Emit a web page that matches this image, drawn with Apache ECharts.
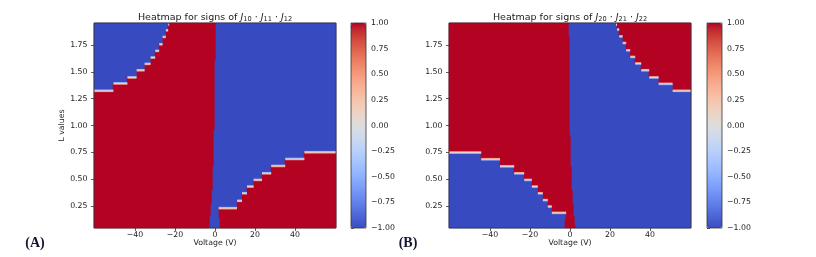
<!DOCTYPE html>
<html><head><meta charset="utf-8">
<script src="https://cdn.jsdelivr.net/npm/echarts@6/dist/echarts.min.js"></script>
<style>html,body{margin:0;padding:0;background:#fff}#c{width:816px;height:257px}</style>
</head><body><div id="c"></div>
<script>
// ---- cell grid (voltage x L) ----
const V_MIN = -60.5, V_MAX = 60.5, V_COLS = 242;
const L_MIN = 0.045, L_MAX = 1.955, L_ROWS = 205;

// ---- tick labels ----
const xTicks = [-40, -20, 0, 20, 40];
const yTicks = [0.25, 0.5, 0.75, 1.0, 1.25, 1.5, 1.75];
const cbTicks = [-1, -0.75, -0.5, -0.25, 0, 0.25, 0.5, 0.75, 1];

// ---- Panel A: J10·J11·J12 ----
// red(+1) / blue(-1) dividing line near V = 0
const aCenterL = [0.045, 0.10, 0.20, 0.38, 0.69, 1.00, 1.955];
const aCenterV = [-2.8, -2.6, -2.0, -1.3, -0.6, -0.2, 0.5];
// upper-left staircase: blue above threshold
const aUpperEdges = [-60.5, -50.8, -43.8, -39.2, -35.2, -32.2, -29.9, -27.9, -26.2, -24.6, -23.4, -22.9];
const aUpperThr   = [1.323, 1.392, 1.448, 1.515, 1.574, 1.633, 1.695, 1.757, 1.825, 1.887, 1.94];
// lower-right staircase: red below threshold
const aLowerEdges = [0, 11.0, 13.5, 16.0, 19.3, 23.5, 28.1, 35.1, 44.7, 60.5];
const aLowerThr   = [0.230, 0.298, 0.369, 0.431, 0.493, 0.555, 0.623, 0.688, 0.751];
// left edge of the lower-right red region (blue wedge at the bottom)
const aWedgeL = [0.045, 0.230];
const aWedgeV = [2.7, 1.8];

// ---- Panel B: J20·J21·J22 ----
const bCenterL = [0.045, 0.10, 0.20, 0.38, 0.69, 1.00, 1.955];
const bCenterV = [2.9, 2.6, 2.0, 1.3, 0.6, 0.1, -0.3];
// upper-right staircase: red above threshold
const bUpperEdges = [23.0, 23.5, 24.6, 26.3, 28.1, 30.1, 32.6, 35.6, 39.6, 44.3, 51.3, 60.5];
const bUpperThr   = [1.94, 1.894, 1.831, 1.769, 1.701, 1.639, 1.578, 1.515, 1.448, 1.388, 1.323];
// lower-left staircase: blue below threshold
const bLowerEdges = [-60.5, -44.4, -35.0, -27.9, -22.9, -19.1, -16.1, -13.6, -11.1, -9.1, 0];
const bLowerThr   = [0.748, 0.686, 0.620, 0.555, 0.493, 0.431, 0.369, 0.305, 0.245, 0.186];
const bWedgeL = [0.045, 0.186];
const bWedgeV = [-2.8, -1.9];

// matplotlib coolwarm
const coolwarm = ['#3b4cc0','#445acc','#4d68d7','#5775e1','#6282ea','#6c8ef1','#779af7','#82a5fb',
 '#8db0fe','#98b9ff','#a3c2ff','#aec9fd','#b8d0f9','#c2d5f4','#ccd9ee','#d5dbe6','#dddddd',
 '#e5d8d1','#ecd3c5','#f1ccb9','#f5c4ad','#f7bba0','#f7b194','#f7a687','#f49a7b','#f18d6f',
 '#ec7f63','#e57058','#de604d','#d55042','#cb3e38','#c0282f','#b40426'];

// ---- helpers ----
function interp(xs, ys, x) {
  if (x <= xs[0]) return ys[0];
  for (let i = 1; i < xs.length; i++) {
    if (x <= xs[i]) { const t = (x - xs[i-1]) / (xs[i] - xs[i-1]); return ys[i-1] + t * (ys[i] - ys[i-1]); }
  }
  return ys[ys.length - 1];
}
function stepThr(edges, thr, v) {
  for (let i = 0; i < thr.length; i++) if (v >= edges[i] && v < edges[i+1]) return thr[i];
  return null;
}
function signA(v, L) {
  const vc = interp(aCenterL, aCenterV, L);
  if (v < vc) { const t = stepThr(aUpperEdges, aUpperThr, v); return (t !== null && L > t) ? -1 : 1; }
  const t = stepThr(aLowerEdges, aLowerThr, v); const w = interp(aWedgeL, aWedgeV, L);
  return (t !== null && L < t && v >= w) ? 1 : -1;
}
function signB(v, L) {
  const vc = interp(bCenterL, bCenterV, L);
  if (v < vc) { const t = stepThr(bLowerEdges, bLowerThr, v); const w = interp(bWedgeL, bWedgeV, L);
    return (t !== null && L < t && v <= w) ? -1 : 1; }
  const t = stepThr(bUpperEdges, bUpperThr, v); return (t !== null && L > t) ? 1 : -1;
}

const vStep = (V_MAX - V_MIN) / V_COLS, lStep = (L_MAX - L_MIN) / L_ROWS;
const vCats = [], lCats = [];
for (let i = 0; i < V_COLS; i++) vCats.push((V_MIN + (i + 0.5) * vStep).toFixed(3));
for (let j = 0; j < L_ROWS; j++) lCats.push((L_MIN + (j + 0.5) * lStep).toFixed(4));
const aCells = [], bCells = [];
for (let i = 0; i < V_COLS; i++) {
  const v = +vCats[i];
  for (let j = 0; j < L_ROWS; j++) {
    const L = +lCats[j];
    aCells.push([i, j, signA(v, L)]);
    bCells.push([i, j, signB(v, L)]);
  }
}
// transition bands along horizontal step edges: [v0, v1, L, kind] kind 0 = blue above, 1 = red above
const aBands = [], bBands = [];
for (let i = 0; i < aUpperThr.length; i++) aBands.push([aUpperEdges[i], aUpperEdges[i+1], aUpperThr[i], 0]);
for (let i = 0; i < aLowerThr.length; i++) aBands.push([Math.max(aLowerEdges[i], interp(aWedgeL, aWedgeV, aLowerThr[i] - 0.003)), aLowerEdges[i+1], aLowerThr[i], 0]);
for (let i = 0; i < bUpperThr.length; i++) bBands.push([bUpperEdges[i], bUpperEdges[i+1], bUpperThr[i], 1]);
for (let i = 0; i < bLowerThr.length; i++) bBands.push([bLowerEdges[i], Math.min(bLowerEdges[i+1], interp(bWedgeL, bWedgeV, bLowerThr[i] - 0.003)), bLowerThr[i], 1]);

const FONT = 'DejaVu Sans';
const TXT = '#222';
const fmtX = v => (v < 0 ? '\u2212' + (-v) : '' + v);
const fmtY = v => v.toFixed(2);
const fmtCb = v => (v < 0 ? '\u2212' : '') + Math.abs(v).toFixed(2);

const bandStops = [
  [{offset:0,color:'#3b4cc0'},{offset:0.28,color:'#9dbdff'},{offset:0.5,color:'#e4d9d2'},{offset:0.72,color:'#f6a385'},{offset:1,color:'#b40426'}],
  [{offset:0,color:'#b40426'},{offset:0.28,color:'#f6a385'},{offset:0.5,color:'#e4d9d2'},{offset:0.72,color:'#9dbdff'},{offset:1,color:'#3b4cc0'}]
];
function bandItem(params, api) {
  const L = api.value(2);
  const p0 = api.coord([api.value(0), L]);
  const p1 = api.coord([api.value(1), L]);
  const h = 3.6;
  return { type: 'rect', shape: { x: p0[0], y: p0[1] - h / 2, width: p1[0] - p0[0], height: h },
    style: { fill: new echarts.graphic.LinearGradient(0, 0, 0, 1, bandStops[api.value(3)]) } };
}

const panels = [
  { left: 94, width: 242, cb: 351 },
  { left: 449, width: 242, cb: 707 }
];
const grids = [], xAxes = [], yAxes = [], series = [], visualMaps = [], titles = [];
const tickStyle = { lineStyle: { color: '#333', width: 0.8 }, length: 3 };
panels.forEach((p, k) => {
  const g = grids.length;
  grids.push({ left: p.left, top: 23, width: p.width, height: 205, show: true, backgroundColor: 'transparent', borderColor: '#333', borderWidth: 0.8, z: 10 });
  grids.push({ left: p.cb, top: 23, width: 15, height: 205, show: true, backgroundColor: 'transparent', borderColor: '#333', borderWidth: 0.8, z: 10 });
  const xc = xAxes.length;
  xAxes.push({ type: 'category', gridIndex: g, data: vCats, show: false, boundaryGap: true });
  xAxes.push({ type: 'value', gridIndex: g, min: V_MIN, max: V_MAX, position: 'bottom',
    axisLine: { show: false }, splitLine: { show: false },
    axisTick: Object.assign({ customValues: xTicks }, tickStyle),
    axisLabel: { customValues: xTicks, formatter: fmtX, fontSize: 7.8, fontFamily: FONT, color: TXT, margin: 2.5 },
    name: 'Voltage (V)', nameLocation: 'middle', nameGap: 11, nameMoveOverlap: false,
    nameTextStyle: { fontSize: 7.8, fontFamily: FONT, color: TXT, verticalAlign: 'top' } });
  xAxes.push({ type: 'value', gridIndex: g + 1, min: 0, max: 1, show: false });
  const yc = yAxes.length;
  yAxes.push({ type: 'category', gridIndex: g, data: lCats, show: false, boundaryGap: true });
  const yv = { type: 'value', gridIndex: g, min: L_MIN, max: L_MAX, position: 'left',
    axisLine: { show: false }, splitLine: { show: false },
    axisTick: Object.assign({ customValues: yTicks }, tickStyle),
    axisLabel: { customValues: yTicks, formatter: fmtY, fontSize: 7.8, fontFamily: FONT, color: TXT, margin: 6.5 } };
  if (k === 0) {
    yv.name = 'L values'; yv.nameLocation = 'middle'; yv.nameRotate = 90; yv.nameGap = 28;
    yv.nameTextStyle = { fontSize: 7.8, fontFamily: FONT, color: TXT };
  }
  yAxes.push(yv);
  yAxes.push({ type: 'value', gridIndex: g + 1, min: -1, max: 1, interval: 0.25, position: 'right',
    axisLine: { show: false }, splitLine: { show: false }, axisTick: tickStyle,
    axisLabel: { formatter: fmtCb, fontSize: 7.8, fontFamily: FONT, color: TXT, margin: 5 } });

  const si = series.length;
  series.push({ type: 'heatmap', xAxisIndex: xc, yAxisIndex: yc, data: k === 0 ? aCells : bCells,
    progressive: 0, emphasis: { disabled: true }, silent: true });
  series.push({ type: 'custom', xAxisIndex: xc + 1, yAxisIndex: yc + 1, data: k === 0 ? aBands : bBands,
    encode: { x: [0, 1], y: 2 }, renderItem: bandItem, clip: true, silent: true, z: 3 });
  visualMaps.push({ type: 'continuous', seriesIndex: si, min: -1, max: 1, calculable: false, hoverLink: false,
    orient: 'vertical', left: p.cb, top: 23, itemWidth: 15, itemHeight: 205, padding: 0, text: null,
    showLabel: false, inRange: { color: coolwarm } });

  const sub = k === 0 ? ['10', '11', '12'] : ['20', '21', '22'];
  titles.push({
    text: 'Heatmap for signs of {j|J}{s|' + sub[0] + '}{d| \u00b7 }{j|J}{s|' + sub[1] + '}{d| \u00b7 }{j|J}{s|' + sub[2] + '}',
    left: p.left + p.width / 2, top: 17.5, textAlign: 'center', textVerticalAlign: 'middle', padding: 0,
    textStyle: { fontSize: 9.5, fontFamily: FONT, color: TXT, fontWeight: 'normal', lineHeight: 11,
      rich: { j: { fontStyle: 'italic', fontSize: 9.5, fontFamily: FONT, color: TXT, lineHeight: 11 },
              s: { fontSize: 6.6, fontFamily: FONT, color: TXT, lineHeight: 6, verticalAlign: 'bottom' },
              d: { fontSize: 9.5, fontFamily: FONT, color: TXT, lineHeight: 11 } } }
  });
});
titles.push({ text: '(A)', left: 35, top: 243, textAlign: 'center', textVerticalAlign: 'middle', padding: 0,
  textStyle: { fontFamily: 'Liberation Serif', fontWeight: 'bold', fontSize: 14, color: '#141433' } });
titles.push({ text: '(B)', left: 408, top: 243, textAlign: 'center', textVerticalAlign: 'middle', padding: 0,
  textStyle: { fontFamily: 'Liberation Serif', fontWeight: 'bold', fontSize: 14, color: '#141433' } });

const chart = echarts.init(document.getElementById('c'), null, { renderer: 'canvas' });
chart.setOption({
  animation: false, backgroundColor: '#fff',
  title: titles, grid: grids, xAxis: xAxes, yAxis: yAxes, visualMap: visualMaps, series: series
});
</script></body></html>
